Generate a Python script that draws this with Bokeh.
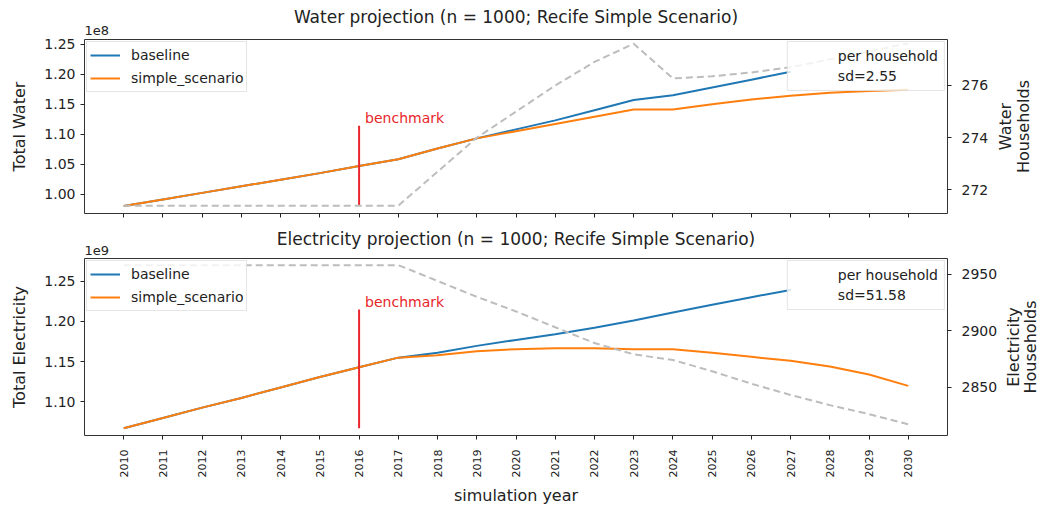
import math
from bokeh.plotting import figure
from bokeh.models import (Range1d, LinearAxis, FixedTicker, CustomJSTickFormatter,
                          Legend, LegendItem, Label, Title)
from bokeh.layouts import column, row
from bokeh.embed import file_html
from bokeh.resources import INLINE

# ---------------- data ----------------
years = [2010, 2011, 2012, 2013, 2014, 2015, 2016, 2017, 2018, 2019, 2020,
         2021, 2022, 2023, 2024, 2025, 2026, 2027, 2028, 2029, 2030]
baseline_years = [2010, 2011, 2012, 2013, 2014, 2015, 2016, 2017, 2018,
                  2019, 2020, 2021, 2022, 2023, 2024, 2025, 2026, 2027]

water_baseline = [0.980e8, 0.991e8, 1.002e8, 1.013e8, 1.024e8, 1.035e8, 1.047e8,
                  1.058e8, 1.076e8, 1.093e8, 1.108e8, 1.123e8, 1.140e8, 1.157e8,
                  1.165e8, 1.178e8, 1.191e8, 1.204e8]
water_scenario = [0.980e8, 0.991e8, 1.002e8, 1.013e8, 1.024e8, 1.035e8, 1.047e8,
                  1.058e8, 1.076e8, 1.093e8, 1.105e8, 1.117e8, 1.129e8, 1.141e8,
                  1.141e8, 1.150e8, 1.158e8, 1.164e8, 1.169e8, 1.172e8, 1.174e8]
water_households = [271.40, 271.40, 271.40, 271.40, 271.40, 271.40, 271.40, 271.40,
                    272.70, 274.00, 275.00, 276.00, 276.90, 277.60, 276.27, 276.35,
                    276.50, 276.70, 277.00, 277.30, 277.62]

elec_baseline = [1.0675e9, 1.080e9, 1.093e9, 1.105e9, 1.118e9, 1.131e9, 1.143e9,
                 1.155e9, 1.161e9, 1.1696e9, 1.177e9, 1.184e9, 1.192e9, 1.201e9,
                 1.211e9, 1.2205e9, 1.230e9, 1.239e9]
elec_scenario = [1.0675e9, 1.080e9, 1.093e9, 1.105e9, 1.118e9, 1.131e9, 1.143e9,
                 1.155e9, 1.158e9, 1.163e9, 1.1655e9, 1.1667e9, 1.1667e9, 1.1655e9,
                 1.1655e9, 1.161e9, 1.156e9, 1.151e9, 1.144e9, 1.134e9, 1.120e9]
elec_households = [2958, 2958, 2958, 2958, 2958, 2958, 2958, 2958, 2944, 2930,
                   2917, 2903, 2889, 2879, 2874, 2864, 2853, 2843, 2834, 2826, 2817]

benchmark_year = 2016
water_bench = [0.980e8, 1.114e8]
elec_bench = [1.0675e9, 1.2146e9]

water_title = "Water projection (n = 1000; Recife Simple Scenario)"
elec_title = "Electricity projection (n = 1000; Recife Simple Scenario)"
water_sd = "sd=2.55"
elec_sd = "sd=51.58"

water_left_ticks = [1.00e8, 1.05e8, 1.10e8, 1.15e8, 1.20e8, 1.25e8]
water_right_ticks = [272, 274, 276]
elec_left_ticks = [1.10e9, 1.15e9, 1.20e9, 1.25e9]
elec_right_ticks = [2850, 2900, 2950]

# ---------------- style ----------------
FONT = "DejaVu Sans"
TXT = "#222222"
BLUE = "#1f77b4"
ORANGE = "#ff7f0e"
RED = "#e8262b"
GRAY = "#bdbdbd"

TOTAL_W = 1044
FRAME_RIGHT = 947
x_range = Range1d(2009, 2031)


def style_axis(ax, label_size="14px"):
    ax.axis_line_color = None
    ax.major_tick_line_color = TXT
    ax.major_tick_out = 4
    ax.major_tick_in = 0
    ax.minor_tick_line_color = None
    ax.major_label_text_font = FONT
    ax.major_label_text_font_size = label_size
    ax.major_label_text_color = TXT
    ax.axis_label_text_font = FONT
    ax.axis_label_text_font_size = "16px"
    ax.axis_label_text_font_style = "normal"
    ax.axis_label_text_color = TXT


def make_panel(width, title, title_standoff, scale_standoff, height, border_top,
               border_bottom, y_lo, y_hi, scale, left_ticks, left_label, r_lo, r_hi,
               right_ticks, base, scen, hh, bench, sd_text, show_x_labels):
    p = figure(width=width, height=height, x_range=x_range,
               y_range=Range1d(y_lo, y_hi), output_backend="svg",
               toolbar_location=None, min_border_left=84,
               min_border_right=width - FRAME_RIGHT,
               min_border_top=border_top, min_border_bottom=border_bottom)
    p.title.text = title
    p.title.align = "center"
    p.title.text_font = FONT
    p.title.text_font_size = "17px"
    p.title.text_font_style = "normal"
    p.title.text_color = TXT
    p.title.standoff = title_standoff
    p.add_layout(Title(text=scale, align="left", text_font=FONT,
                       text_font_size="13px", text_font_style="normal",
                       text_color=TXT, standoff=scale_standoff), "above")
    p.outline_line_color = "#333333"
    p.outline_line_width = 1
    p.xgrid.grid_line_color = None
    p.ygrid.grid_line_color = None

    p.extra_y_ranges = {"hh": Range1d(r_lo, r_hi)}

    ya = p.yaxis[0]
    style_axis(ya)
    ya.ticker = FixedTicker(ticks=left_ticks)
    ya.formatter = CustomJSTickFormatter(code="return (tick/%s).toFixed(2);" % scale)
    ya.axis_label = left_label
    ya.axis_label_standoff = 12

    xa = p.xaxis[0]
    style_axis(xa, "11px")
    xa.ticker = FixedTicker(ticks=years)
    if show_x_labels:
        xa.major_label_orientation = math.pi / 2
        xa.major_label_standoff = 10
        xa.axis_label = "simulation year"
        xa.axis_label_standoff = 6
    else:
        xa.major_label_text_font_size = "0px"
        xa.major_label_standoff = 0

    ra = LinearAxis(y_range_name="hh", ticker=FixedTicker(ticks=right_ticks))
    style_axis(ra)
    ra.major_label_standoff = 10
    p.add_layout(ra, "right")

    r_b = p.line(baseline_years, base, line_color=BLUE, line_width=2)
    r_s = p.line(years, scen, line_color=ORANGE, line_width=2)

    p.segment(x0=[benchmark_year], y0=[bench[0]], x1=[benchmark_year], y1=[bench[1]],
              line_color=RED, line_width=2)
    p.add_layout(Label(x=benchmark_year, y=bench[1], text="benchmark", x_offset=6,
                       text_color=RED, text_font=FONT, text_font_size="14px",
                       text_baseline="bottom"))

    p.line(years, hh, y_range_name="hh", line_color=GRAY, line_width=2,
           line_dash="7 4")

    dummy = p.line([years[0]], [hh[0]], y_range_name="hh", line_alpha=0)

    leg = Legend(items=[LegendItem(label="baseline", renderers=[r_b]),
                        LegendItem(label="simple_scenario", renderers=[r_s])],
                 location="top_left")
    leg2 = Legend(items=[LegendItem(label="per household", renderers=[dummy]),
                         LegendItem(label=sd_text, renderers=[dummy])],
                  location="top_right")
    for lg in (leg, leg2):
        lg.label_text_font = FONT
        lg.label_text_font_size = "14px"
        lg.label_text_color = TXT
        lg.background_fill_alpha = 0.8
        lg.border_line_color = "#cccccc"
        lg.border_line_width = 1
        lg.margin = 2
        lg.label_standoff = 11
    leg.glyph_width = 30
    leg.glyph_height = 20
    leg.label_height = 20
    leg.spacing = 3
    leg.padding = 3
    leg2.glyph_width = 36
    leg2.label_standoff = 8
    leg2.glyph_height = 14
    leg2.label_height = 14
    leg2.spacing = 4
    leg2.padding = 6
    p.add_layout(leg)
    p.add_layout(leg2)
    return p


def make_side(width, height, border_top, border_bottom, lines, xs):
    s = figure(width=width, height=height, x_range=Range1d(0, width),
               y_range=Range1d(0, 1), output_backend="svg", toolbar_location=None,
               x_axis_type=None, y_axis_type=None, min_border_left=0,
               min_border_right=0, min_border_top=border_top,
               min_border_bottom=border_bottom)
    s.outline_line_color = None
    for txt, x in zip(lines, xs):
        s.add_layout(Label(x=x, y=0.5, text=txt, angle=math.pi / 2,
                           text_align="center", text_baseline="middle",
                           text_font=FONT, text_font_size="16px", text_color=TXT))
    return s


W1 = 992
p1 = make_panel(W1, water_title, -16, 10, 222, 39, 9, 0.9676e8, 1.258e8, "1e8",
                water_left_ticks, "Total Water", 271.10, 277.76, water_right_ticks,
                water_baseline, water_scenario, water_households, water_bench,
                water_sd, False)
s1 = make_side(TOTAL_W - W1, 222, 39, 9, ["Water", "Households"], [1005 - W1, 1023 - W1])

W2 = 1000
p2 = make_panel(W2, elec_title, -17, 7, 286, 36, 73, 1.0584e9, 1.278e9, "1e9",
                elec_left_ticks, "Total Electricity", 2807.1, 2963.9,
                elec_right_ticks, elec_baseline, elec_scenario, elec_households,
                elec_bench, elec_sd, True)
s2 = make_side(TOTAL_W - W2, 286, 36, 73, ["Electricity", "Households"],
               [1013 - W2, 1030 - W2])

layout = column(row(p1, s1, spacing=0), row(p2, s2, spacing=0), spacing=0)
open("out.html", "w").write(file_html(layout, INLINE))
